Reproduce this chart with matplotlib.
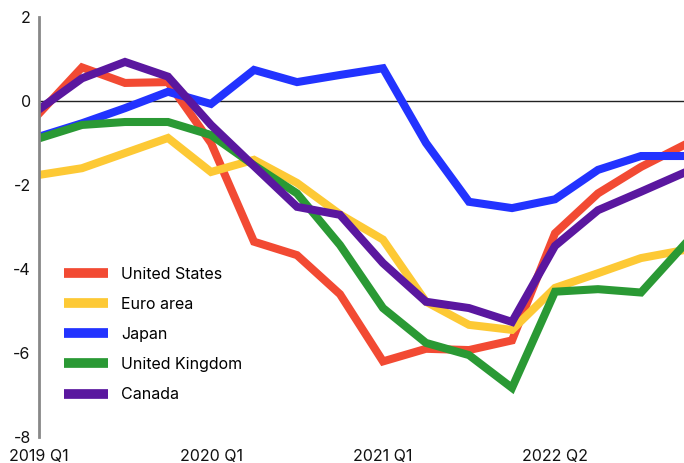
import matplotlib
matplotlib.use("Agg")
import matplotlib.pyplot as plt

# data ------------------------------------------------------------------------
periods = list(range(16))
tick_pos = [0, 4, 8, 12]
tick_labels = ["2019 Q1", "2020 Q1", "2021 Q1", "2022 Q2"]

us     = [-0.3, 0.8, 0.43, 0.45, -1.0, -3.35, -3.67, -4.6, -6.2, -5.9, -5.93, -5.7, -3.15, -2.2, -1.57, -1.05]
euro   = [-1.76, -1.6, -1.24, -0.88, -1.69, -1.4, -1.95, -2.7, -3.3, -4.78, -5.33, -5.45, -4.45, -4.1, -3.74, -3.55]
japan  = [-0.85, -0.53, -0.17, 0.22, -0.07, 0.74, 0.45, 0.62, 0.78, -1.0, -2.4, -2.55, -2.34, -1.64, -1.31, -1.31]
uk     = [-0.89, -0.57, -0.5, -0.5, -0.81, -1.53, -2.2, -3.43, -4.93, -5.76, -6.05, -6.83, -4.54, -4.48, -4.56, -3.43]
canada = [-0.2, 0.54, 0.93, 0.58, -0.57, -1.55, -2.52, -2.71, -3.86, -4.78, -4.93, -5.26, -3.45, -2.6, -2.16, -1.71]

series = [
    ("United States", us, "#F24A33"),
    ("Euro area", euro, "#FDC935"),
    ("Japan", japan, "#2233FF"),
    ("United Kingdom", uk, "#2A9934"),
    ("Canada", canada, "#5A179F"),
]

# plot ------------------------------------------------------------------------
plt.rcParams["font.family"] = ["Inter", "DejaVu Sans"]
plt.rcParams["axes.unicode_minus"] = False
fig = plt.figure(figsize=(6.84, 4.63), dpi=100)
ax = fig.add_axes([39 / 684, 26 / 463, 645 / 684, 420 / 463])

ax.axhline(0, color="#222222", lw=1.0, zorder=1)
for name, vals, col in series:
    ax.plot(periods, vals, color=col, lw=5.8, label=name, solid_joinstyle="miter", zorder=2)

ax.set_xlim(0, 15)
ax.set_ylim(-8, 2)
ax.set_yticks([2, 0, -2, -4, -6, -8])
ax.set_xticks(tick_pos)
ax.set_xticklabels(tick_labels)
ax.tick_params(axis="both", length=0, labelsize=11.5, colors="#111111")
ax.tick_params(axis="x", pad=9)
ax.tick_params(axis="y", pad=6)

for s in ["top", "right", "bottom"]:
    ax.spines[s].set_visible(False)
ax.spines["left"].set_color("#888888")
ax.spines["left"].set_linewidth(2)

leg = ax.legend(loc="lower left", bbox_to_anchor=(0.016, 0.048), frameon=False,
                fontsize=11.5, handlelength=2.8, handleheight=0.8, labelspacing=0.95,
                handletextpad=0.8)
for h in leg.get_lines():
    h.set_linewidth(7)
    h.set_solid_capstyle("butt")

fig.savefig("out.png", dpi=100)
